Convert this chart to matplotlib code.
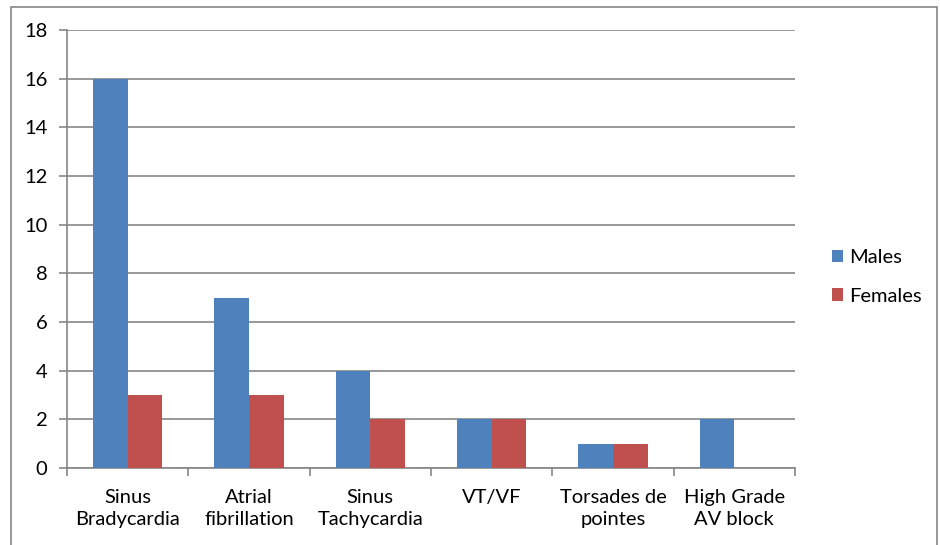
import numpy as np
import matplotlib.pyplot as plt
from matplotlib.patches import Rectangle

categories = ["Sinus\nBradycardia", "Atrial\nfibrillation", "Sinus\nTachycardia",
              "VT/VF", "Torsades de\npointes", "High Grade\nAV block"]
males = [16, 7, 4, 2, 1, 2]
females = [3, 3, 2, 2, 1, 0]

blue = "#4F81BD"
red = "#C0504D"
gray = "#868686"

plt.rcParams['font.family'] = ['Lato', 'DejaVu Sans']

fig = plt.figure(figsize=(9.4, 5.45), dpi=100)
ax = fig.add_axes([67 / 940, 1 - 468 / 545, (795 - 67) / 940, (468 - 30) / 545])

x = np.arange(len(categories))
w = 0.285
ax.bar(x - w / 2, males, w, color=blue, label="Males", zorder=3)
ax.bar(x + w / 2, females, w, color=red, label="Females", zorder=3)

ax.set_xlim(-0.5, len(categories) - 0.5)
ax.set_ylim(0, 18)
ax.set_yticks(np.arange(0, 19, 2))
ax.yaxis.grid(True, color=gray, linewidth=1.2, zorder=0)

# category ticks sit on the boundaries, labels in the middle
ax.set_xticks(np.arange(-0.5, len(categories)), minor=False)
ax.set_xticklabels([])
ax.set_xticks(x, minor=True)
ax.set_xticklabels(categories, minor=True, fontsize=14.5, linespacing=1.35)
ax.tick_params(axis='x', which='minor', length=0, pad=15)
ax.tick_params(axis='x', which='major', length=6, width=1.2, color=gray)
ax.tick_params(axis='y', length=6, width=1.2, color=gray, labelsize=14.5, pad=8)

for side in ("top", "right"):
    ax.spines[side].set_visible(False)
for side in ("left", "bottom"):
    ax.spines[side].set_color(gray)
    ax.spines[side].set_linewidth(1.2)

fig.legend(loc="center left", bbox_to_anchor=(814 / 940, 1 - 277 / 545),
           frameon=False, fontsize=14.5, handlelength=0.55, handleheight=0.55,
           handletextpad=0.3, labelspacing=1.05)

# chart frame
fig.patches.append(Rectangle((11 / 940, -0.05), (937 - 11) / 940, 1.05 - 7 / 545,
                             transform=fig.transFigure, fill=False,
                             edgecolor=gray, linewidth=1.2))

fig.savefig("out.png", dpi=100)
